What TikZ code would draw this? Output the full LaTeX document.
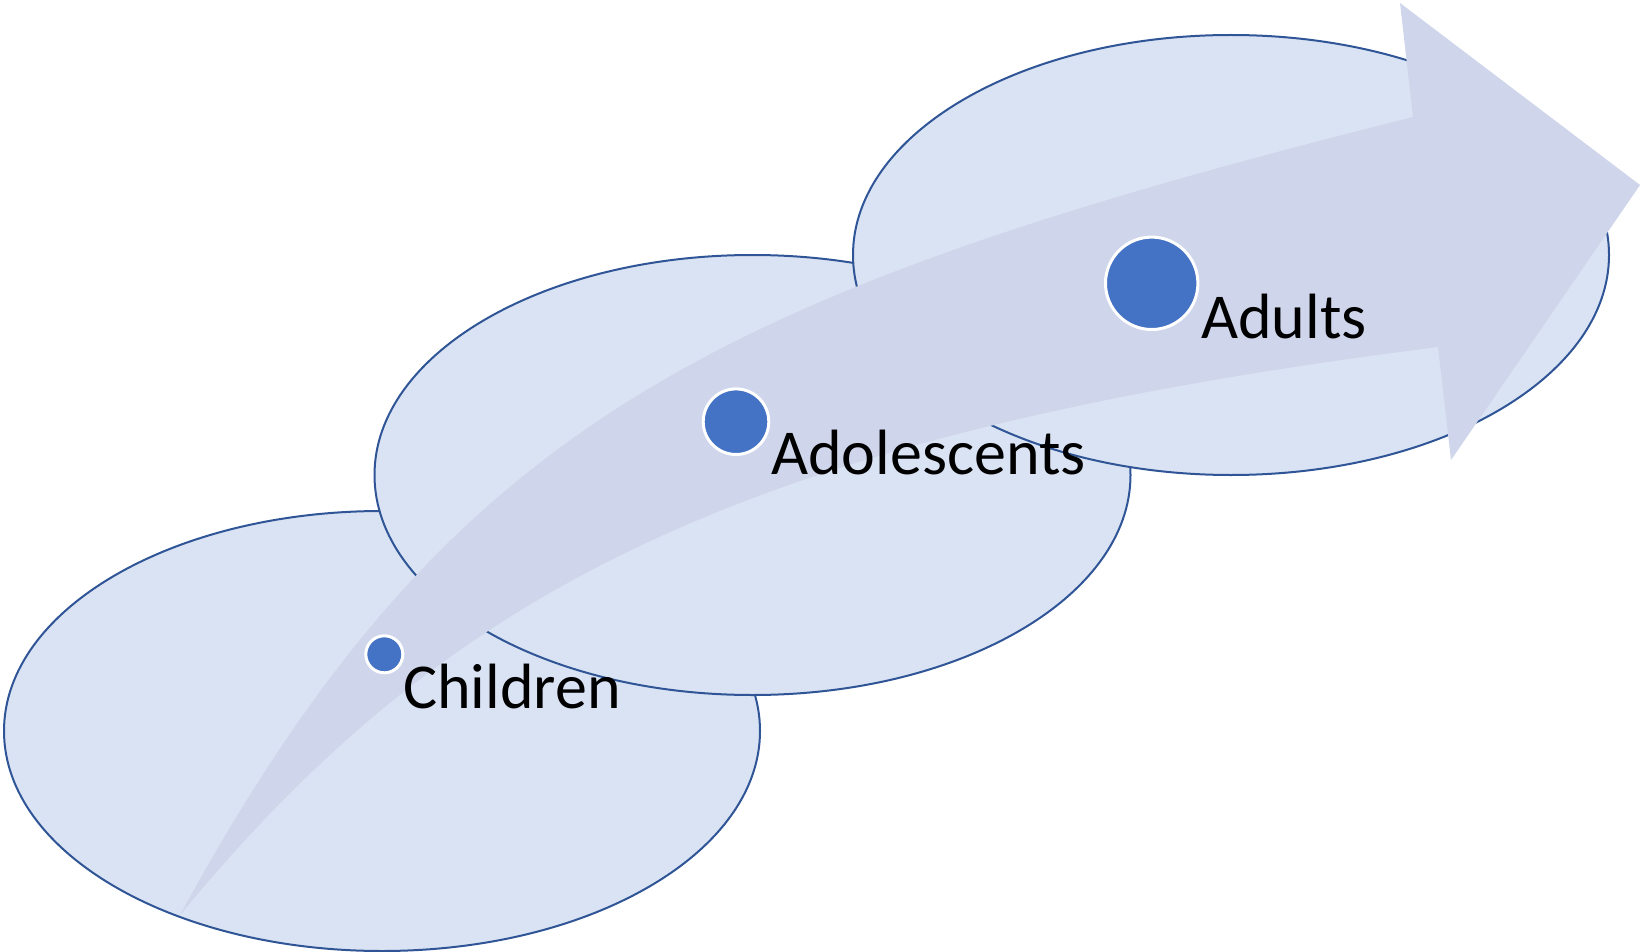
\documentclass[tikz,border=0pt]{standalone}
\usepackage{fontspec}
\setmainfont{Carlito}
\usetikzlibrary{shapes.geometric}
\definecolor{efill}{HTML}{DAE3F3}
\definecolor{eline}{HTML}{2F5597}
\definecolor{afill}{HTML}{CFD5EA}
\definecolor{dotblue}{HTML}{4472C4}
\tikzset{
  stage/.style={ellipse, draw=eline, fill=efill, line width=2pt, minimum width=756pt, minimum height=440pt, inner sep=0pt},
  dotmark/.style={circle, fill=dotblue, draw=white, line width=3pt, inner sep=0pt},
  lbl/.style={anchor=base west, inner sep=0pt, font=\fontsize{64}{70}\selectfont, text=black},
}
\begin{document}
\begin{tikzpicture}[x=1pt,y=-1pt]
\useasboundingbox (0,0) rectangle (1640,952);
\node[stage] (e1) at (382,731) {};
\node[stage] (e2) at (752.5,475) {};
\node[stage] (e3) at (1231,255) {};
% curved arrow
\fill[afill] (180,915) .. controls (446,428) and (703,295) .. (1413,117)
  -- (1400,3) -- (1640,185) -- (1451,460) -- (1438,347)
  .. controls (744.5,434.7) and (450,587.5) .. (180,915) -- cycle;
\node[dotmark, minimum size=37pt] (c1) at (384.3,654.3) {};
\node[dotmark, minimum size=65.6pt] (c2) at (736,421.7) {};
\node[dotmark, minimum size=92.4pt] (c3) at (1151.7,283.3) {};
\node[lbl] (t1) at (403,708) {Children};
\node[lbl] (t2) at (771,474) {Adolescents};
\node[lbl] (t3) at (1201,338) {Adults};
\end{tikzpicture}
\end{document}
